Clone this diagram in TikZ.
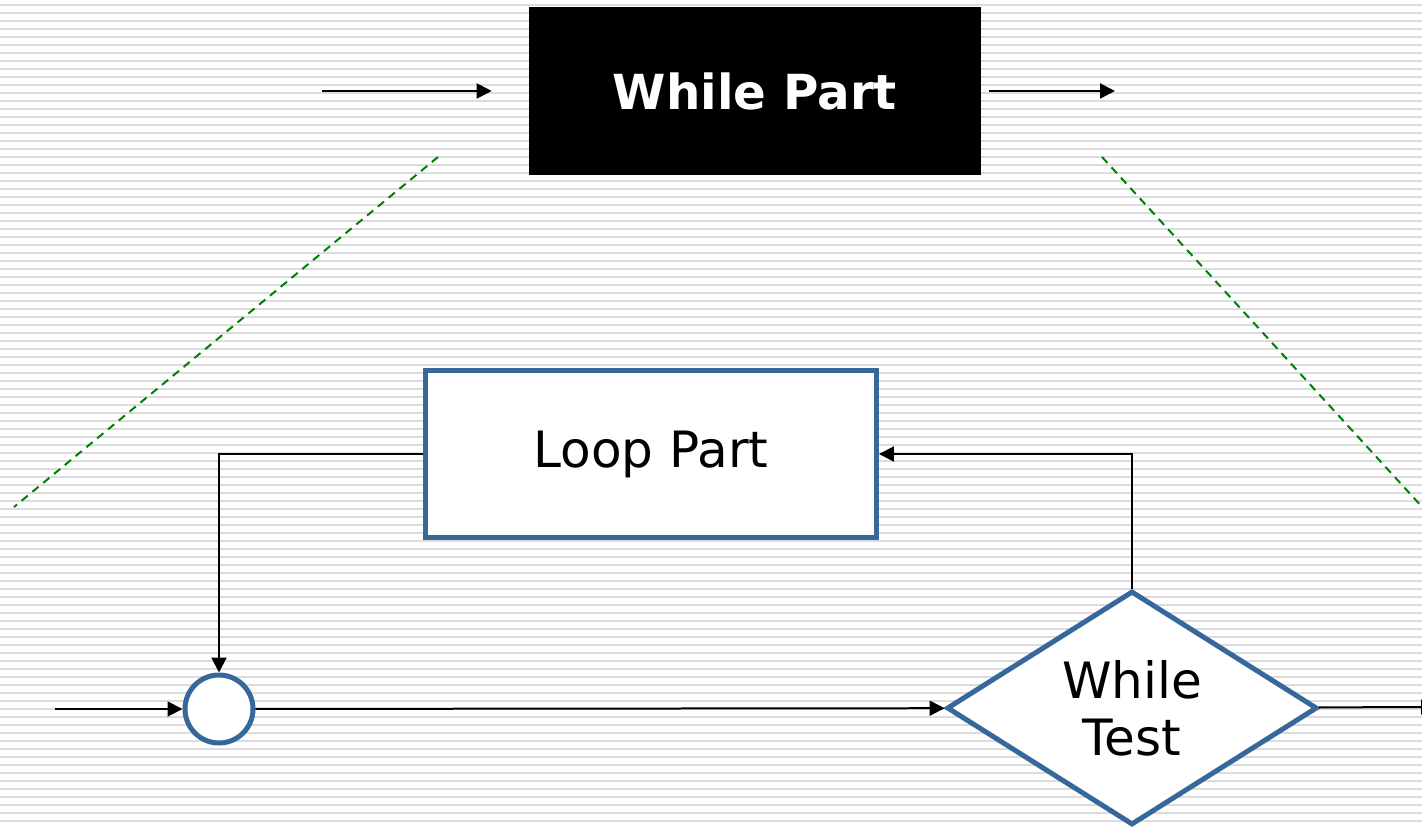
\documentclass[tikz,border=0pt]{standalone}
\usepackage{fontspec}
\setmainfont{DejaVu Sans}
\usetikzlibrary{arrows.meta,shapes.geometric}

\begin{document}
\begin{tikzpicture}[x=0.02cm,y=0.02cm,
    flow/.style={line width=0.04cm, -{Triangle[length=0.3cm,width=0.3cm]}},
    bluebox/.style={draw=flowblue, line width=0.1cm, fill=white},
    guide/.style={draw=guidegreen, line width=0.04cm, dash pattern=on 0.16cm off 0.12cm},
    bigtext/.style={font=\fontsize{28.5}{32.5}\selectfont}]

    % Farben
    \definecolor{stripegray}{RGB}{220,220,220}
    \definecolor{flowblue}{RGB}{54,104,156}
    \definecolor{guidegreen}{RGB}{0,128,0}

    % Maße
    \def\W{1422}
    \def\H{826}

    \useasboundingbox (0,0) rectangle (\W,\H);

    % Streifen im Hintergrund
    \foreach \k in {0,...,102}
        \draw[stripegray, line width=0.04cm] (0,821-8*\k) -- (\W,821-8*\k);

    % Oberer Block
    \node[fill=black, text=white, font=\bfseries\fontsize{27.5}{32}\selectfont,
        minimum width=9.04cm, minimum height=3.36cm] (whilepart) at (755,735)
        {While Part};
    \coordinate (partin) at (322,735);
    \coordinate (partout) at (1115,735);
    \draw[flow, shorten >=0.74cm] (partin) -- (whilepart.west);
    \draw[flow, shorten <=0.16cm] (whilepart.east) -- (partout);

    % Gestrichelte Hilfslinien
    \coordinate (guideleftA) at (438,669);
    \coordinate (guideleftB) at (14,319);
    \coordinate (guiderightA) at (1102,669);
    \coordinate (guiderightB) at (1424,317);
    \draw[guide] (guideleftA) -- (guideleftB);
    \draw[guide] (guiderightA) -- (guiderightB);

    % Schleifenteil
    \node[bluebox, bigtext, minimum width=9.02cm, minimum height=3.34cm]
        (looppart) at (651,372) {Loop Part};

    % Zusammenführung
    \node[bluebox, circle, minimum size=1.36cm, inner sep=0] (junction) at (219,117) {};

    % Bedingung
    \node[bluebox, diamond, aspect=1.6, inner sep=0, minimum width=7.41cm,
        minimum height=4.68cm, align=center, bigtext] (whiletest) at (1132,118)
        {While\\Test};

    % Verbindungen
    \coordinate (loopin) at (55,117);
    \coordinate (testout) at (1436,119);
    \draw[flow] (loopin) -- (junction);
    \draw[flow] (looppart.west) -| (junction.north);
    \draw[flow] (junction) -- (whiletest);
    \draw[flow] (whiletest.north) |- (looppart.east);
    \draw[flow] (whiletest) -- (testout);

\end{tikzpicture}
\end{document}
